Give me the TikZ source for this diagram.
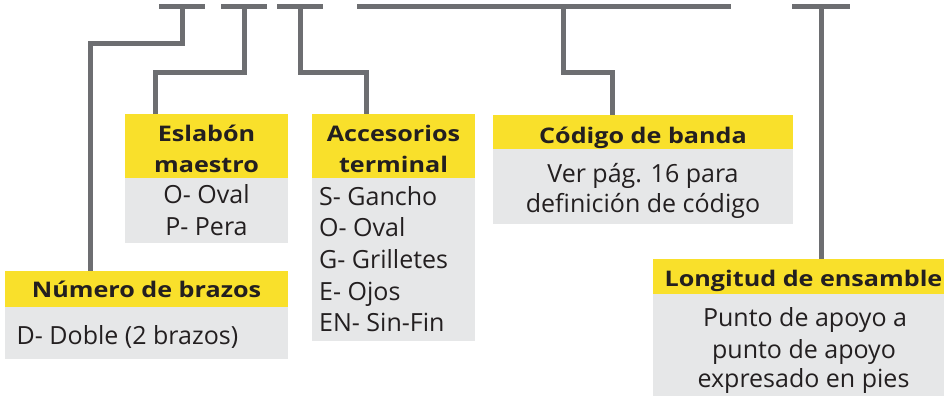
\documentclass[tikz,border=0pt]{standalone}
\usepackage{fontspec}
\setmainfont{Open Sans}
\newfontfamily\hdrfont{Open Sans}[FakeStretch=1.17]
\definecolor{ybar}{HTML}{F9E02B}
\definecolor{gbox}{HTML}{E6E7E8}
\definecolor{lgray}{HTML}{6D6E71}
\definecolor{ink}{HTML}{231F20}
\begin{document}
\begin{tikzpicture}[x=1pt,y=-1pt,
  hdr/.style={fill=ybar, draw=none, inner sep=0pt, outer sep=0pt, anchor=north west},
  bodybox/.style={fill=gbox, draw=none, inner sep=0pt, outer sep=0pt, anchor=north west},
  conn/.style={draw=lgray, line width=5pt, line join=miter},
  ht/.style={font=\hdrfont\fontsize{21.5}{30}\selectfont\bfseries, text=ink, inner sep=0pt, anchor=base},
  bt/.style={font=\fontsize{25}{31.5}\selectfont, text=ink, inner sep=0pt, anchor=base},
  btl/.style={bt, anchor=base west}]
\useasboundingbox (0,0) rectangle (944,396);

% boxes
\node[hdr, minimum width=163pt, minimum height=64pt] (eslH) at (125,114) {};
\node[bodybox, minimum width=163pt, minimum height=65pt] (eslB) at (125,178) {};
\node[hdr, minimum width=163pt, minimum height=64pt] (accH) at (312,114) {};
\node[bodybox, minimum width=163pt, minimum height=163pt] (accB) at (312,178) {};
\node[hdr, minimum width=300pt, minimum height=34pt] (codH) at (493,115) {};
\node[bodybox, minimum width=300pt, minimum height=75pt] (codB) at (493,149) {};
\node[hdr, minimum width=283pt, minimum height=36pt] (numH) at (5,271) {};
\node[bodybox, minimum width=283pt, minimum height=52pt] (numB) at (5,307) {};
\node[hdr, minimum width=291pt, minimum height=35pt] (lonH) at (653,259) {};
\node[bodybox, minimum width=291pt, minimum height=102pt] (lonB) at (653,294) {};

% top bars
\coordinate (b1l) at (159,6.8); \coordinate (b1r) at (205,6.8); \coordinate (b1m) at (182,6.8);
\coordinate (b2l) at (221,6.8); \coordinate (b2r) at (267,6.8); \coordinate (b2m) at (244,6.8);
\coordinate (b3l) at (277,6.8); \coordinate (b3r) at (323,6.8); \coordinate (b3m) at (300,6.8);
\coordinate (b4l) at (357,6.8); \coordinate (b4r) at (731,6.8); \coordinate (b4m) at (563,6.8);
\coordinate (b5l) at (792,6.8); \coordinate (b5r) at (850,6.8); \coordinate (b5m) at (821,6.8);
\draw[conn] (b1l) -- (b1r);
\draw[conn] (b2l) -- (b2r);
\draw[conn] (b3l) -- (b3r);
\draw[conn] (b4l) -- (b4r);
\draw[conn] (b5l) -- (b5r);

% elbows
\coordinate (e1) at (90,44);
\coordinate (e2) at (155,72);
\coordinate (e3) at (366,72);
\coordinate (e4) at (612,72);

% connectors
\draw[conn] (b1m) |- (e1) -- (numH.north -| e1);
\draw[conn] (b2m) |- (e2) -- (eslH.north -| e2);
\draw[conn] (b3m) |- (e3) -- (accH.north -| e3);
\draw[conn] (b4m) |- (e4) -- (codH.north -| e4);
\draw[conn] (b5m) -- (lonH.north -| b5m);

% texts
\node[ht] (t1) at (206.5,141) {Eslabón};
\node[ht] (t2) at (206.5,172) {maestro};
\node[bt] (t3) at (206.5,203) {O- Oval};
\node[bt] (t4) at (206.5,235) {P- Pera};

\node[ht] (t5) at (393.5,141) {Accesorios};
\node[ht] (t6) at (393.5,172) {terminal};
\node[btl] (t7) at (319,205) {S- Gancho};
\node[btl] (t8) at (319,236) {O- Oval};
\node[btl] (t9) at (319,268) {G- Grilletes};
\node[btl] (t10) at (319,300) {E- Ojos};
\node[btl] (t11) at (319,331) {EN- Sin-Fin};

\node[ht] (t12) at (643,143) {Código de banda};
\node[bt] (t13) at (643,182) {Ver pág. 16 para};
\node[bt] (t14) at (643,212) {definición de código};

\node[ht] (t15) at (146.5,297) {Número de brazos};
\node[btl] (t16) at (16.5,344) {D- Doble (2 brazos)};

\node[ht] (t17) at (803.5,286) {Longitud de ensamble};
\node[bt] (t18) at (805,326) {Punto de apoyo a};
\node[bt] (t19) at (804,358) {punto de apoyo};
\node[bt] (t20) at (803.5,387) {expresado en pies};
\end{tikzpicture}
\end{document}
